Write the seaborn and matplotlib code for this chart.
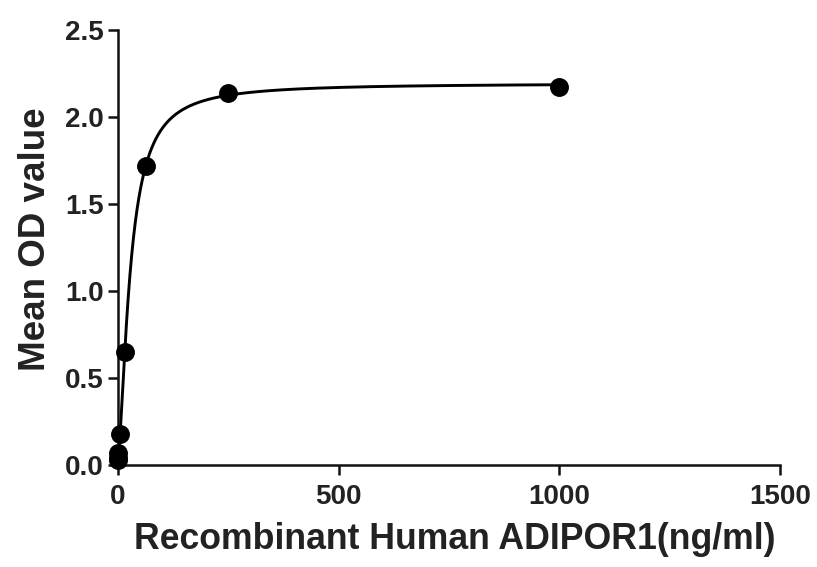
import numpy as np
import pandas as pd
import matplotlib
matplotlib.use("Agg")
import matplotlib.pyplot as plt
import seaborn as sns

# Data
concentration = [1000, 250, 62.5, 15.63, 3.91, 0.98, 0.24, 0.06]
mean_od = [2.17, 2.14, 1.72, 0.65, 0.18, 0.07, 0.04, 0.03]
xticks = [0, 500, 1000, 1500]
yticks = [0.0, 0.5, 1.0, 1.5, 2.0, 2.5]
xlabel = "Recombinant Human ADIPOR1(ng/ml)"
ylabel = "Mean OD value"


def four_pl(x, p):
    a, b, c, d = p
    return d + (a - d) / (1.0 + (np.asarray(x, float) / c) ** b)


def fit_4pl(x, y, p0, iters=200):
    x = np.asarray(x, float)
    y = np.asarray(y, float)
    p = np.array(p0, float)
    lam = 1e-3
    def sse(q):
        return np.sum((four_pl(x, q) - y) ** 2)
    cur = sse(p)
    for _ in range(iters):
        r = four_pl(x, p) - y
        J = np.zeros((len(x), len(p)))
        for k in range(len(p)):
            dp = np.zeros_like(p)
            dp[k] = 1e-6 * max(abs(p[k]), 1e-3)
            J[:, k] = (four_pl(x, p + dp) - four_pl(x, p)) / dp[k]
        A = J.T @ J
        g = J.T @ r
        step = np.linalg.solve(A + lam * np.diag(np.diag(A) + 1e-12), -g)
        newp = p + step
        if newp[1] > 0 and newp[2] > 0:
            new = sse(newp)
        else:
            new = np.inf
        if new < cur:
            p, cur = newp, new
            lam *= 0.3
        else:
            lam *= 10
    return p


params = fit_4pl(concentration, mean_od, [0.02, 1.5, 27.0, 2.16])
xs = np.linspace(0, max(concentration), 2000)
curve = pd.DataFrame({"x": xs, "y": four_pl(xs, params)})
pts = pd.DataFrame({"x": concentration, "y": mean_od})

sns.set_theme(style="ticks")
plt.rcParams["font.family"] = ["Liberation Sans", "DejaVu Sans"]
plt.rcParams["font.weight"] = "bold"

fig = plt.figure(figsize=(8.17, 5.67), dpi=100)
ax = fig.add_axes([0.1444, 0.180, 0.8103, 0.767])

sns.lineplot(data=curve, x="x", y="y", ax=ax, color="black", linewidth=2.1)
sns.scatterplot(data=pts, x="x", y="y", ax=ax, color="black", s=185,
                edgecolor="black", linewidth=0, zorder=5, clip_on=False)

ax.set_xlim(0, 1500)
ax.set_ylim(0, 2.5)
ax.set_xticks(xticks)
ax.set_yticks(yticks)
ax.set_xticklabels([str(t) for t in xticks], fontsize=20, fontweight="bold", color="#222222")
ax.set_yticklabels([f"{t:.1f}" for t in yticks], fontsize=20, fontweight="bold", color="#222222")
ax.set_xlabel(xlabel, fontsize=25.7, fontweight="bold", color="#222222")
ax.set_ylabel(ylabel, fontsize=26.5, fontweight="bold", color="#222222")
ax.xaxis.set_label_coords(0.509, -0.131)
ax.yaxis.set_label_coords(-0.098, 0.52)

for side in ["top", "right"]:
    ax.spines[side].set_visible(False)
for side in ["left", "bottom"]:
    ax.spines[side].set_linewidth(1.8)
    ax.spines[side].set_color("#111111")
ax.tick_params(axis="both", direction="out", length=7, width=1.8, color="#111111", pad=3)
ax.tick_params(axis="x", pad=7)

fig.savefig("out.png", dpi=100, facecolor="white")
